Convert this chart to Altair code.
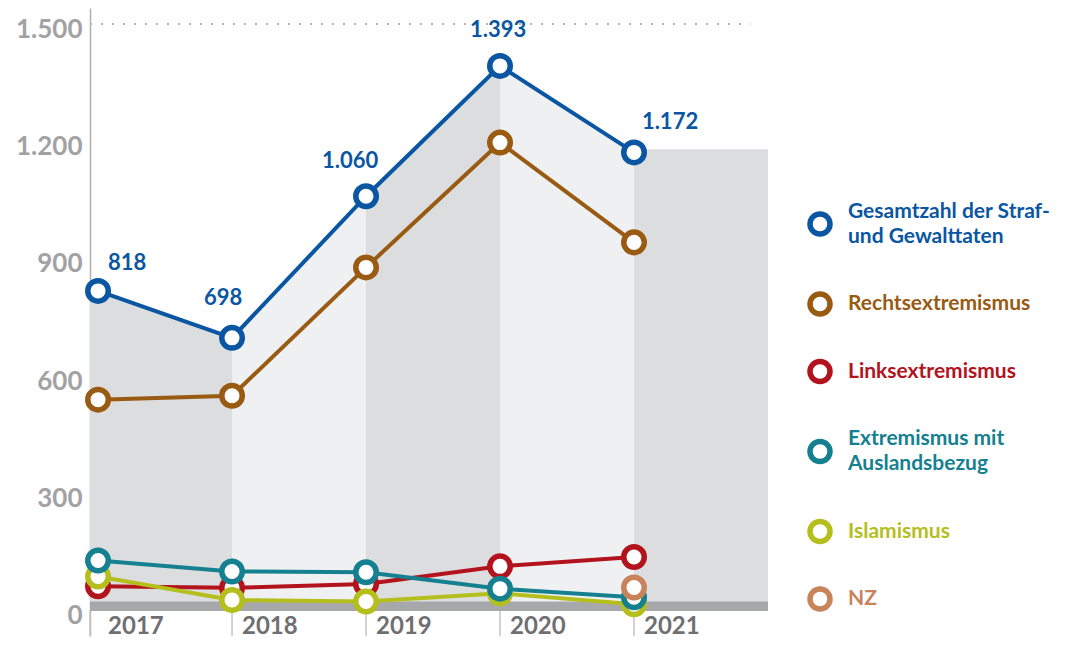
import altair as alt
import pandas as pd

# ---------------- data ----------------
years = [2017, 2018, 2019, 2020, 2021]
series = ["Gesamtzahl der Straf-|und Gewalttaten", "Rechtsextremismus", "Linksextremismus",
          "Extremismus mit|Auslandsbezug", "Islamismus", "NZ"]
gesamt = [818, 698, 1060, 1393, 1172]
rechts = [540, 550, 878, 1197, 942]
links = [63, 59, 69, 114, 138]
ausland = [129, 101, 99, 57, 35]
islam = [88, 28, 24, 45, 17]
nz = [None, None, None, None, 60]
colors = ["#0a56a2", "#995a12", "#b3131c", "#148090", "#b4bf1e", "#c8835b"]
draw_rank = [0, 1, 2, 4, 3, 5]
y_ticks = [0, 300, 600, 900, 1200, 1500]
band_edges = [2016.94, 2018, 2019, 2020, 2021, 2022]
band_shades = ["dark", "light", "dark", "light", "dark"]
tail_level = 1180
floor_level = 24
grid_end = 2021.87
y_domain = [-64, 1541]
legend_lines = [2, 1, 1, 2, 1, 1]
legend_gap = 1.7

# ---------------- tables ----------------
values = [gesamt, rechts, links, ausland, islam, nz]
rows = []
for s, vals, rank in zip(series, values, draw_rank):
    for yr, v in zip(years, vals):
        if v is not None:
            rows.append({"series": s, "year": yr, "value": v, "rank": rank})
df = pd.DataFrame(rows)

area_rows = []
for i in range(4):
    if i == 0:
        area_rows.append({"band": i, "x": band_edges[0], "y": gesamt[0], "shade": band_shades[i]})
    area_rows.append({"band": i, "x": years[i], "y": gesamt[i], "shade": band_shades[i]})
    area_rows.append({"band": i, "x": years[i + 1], "y": gesamt[i + 1], "shade": band_shades[i]})
area_rows.append({"band": 4, "x": years[-1], "y": tail_level, "shade": band_shades[4]})
area_rows.append({"band": 4, "x": band_edges[-1], "y": tail_level, "shade": band_shades[4]})
area_df = pd.DataFrame(area_rows)

floor_df = pd.DataFrame([{"x0": band_edges[0], "x1": band_edges[-1], "y0": 0, "y1": floor_level}])
grid_df = pd.DataFrame([{"x0": band_edges[0], "x1": grid_end, "y": y_ticks[-1]}])
tick_df = pd.DataFrame({"x": band_edges[:-1], "y0": [y_domain[0]] * 5, "y1": [0] * 5})
year_df = pd.DataFrame({"x": years, "y": [y_domain[0]] * 5, "label": [str(y) for y in years]})
total_df = pd.DataFrame({"year": years, "value": gesamt})

leg_pos, leg_text_pos = [], []
cum = 0.0
for n in legend_lines:
    leg_pos.append(cum + n / 2)
    leg_text_pos.append(cum + n / 2 - (n - 1) / 2)
    cum += n + legend_gap
legend_df = pd.DataFrame({"series": series, "pos": leg_pos, "tpos": leg_text_pos})

# ---------------- scales / encodings ----------------
FONT = "Lato"
xscale = alt.Scale(domain=[band_edges[0], band_edges[-1]], nice=False, zero=False)
yscale = alt.Scale(domain=y_domain, nice=False, zero=False)
yaxis = alt.Axis(values=y_ticks, labelExpr="replace(format(datum.value, ','), ',', '.')",
                 domain=True, domainColor="#b0b0b3", domainWidth=1.5, ticks=False, tickSize=0,
                 grid=False, labelFont=FONT, labelFontSize=26, labelFontWeight="bold",
                 labelColor="#a2a2a5", labelPadding=8, labelOffset=5, labelOverlap=False,
                 title=None)
stroke_scale = alt.Scale(domain=series, range=colors)


def X(field):
    return alt.X(field, type="quantitative", scale=xscale, axis=None)


def Y(field):
    return alt.Y(field, type="quantitative", scale=yscale, axis=yaxis)


areas = alt.Chart(area_df).mark_area(interpolate="linear", opacity=1).encode(
    x=X("x"), y=Y("y"), y2=alt.datum(0),
    fill=alt.Fill("shade:N", scale=alt.Scale(domain=["dark", "light"], range=["#dcdddf", "#eff0f2"]),
                  legend=None),
    detail="band:N",
)

floor = alt.Chart(floor_df).mark_rect(color="#a7a8ab").encode(
    x=X("x0"), x2="x1", y=Y("y0"), y2="y1"
)

grid = alt.Chart(grid_df).mark_rule(color="#b4b4b7", strokeWidth=2, strokeDash=[2, 9]).encode(
    x=X("x0"), x2="x1", y=Y("y")
)

ticks = alt.Chart(tick_df).mark_rule(color="#c4c4c6", strokeWidth=1.5).encode(
    x=X("x"), y=Y("y0"), y2="y1"
)

year_text = alt.Chart(year_df).mark_text(
    align="left", baseline="alphabetic", dx=10, dy=-2, font=FONT, fontSize=24, fontWeight="bold",
    color="#6f6f72"
).encode(x=X("x"), y=Y("y"), text="label:N")

lines = alt.Chart(df).mark_line(strokeWidth=4).encode(
    x=X("year"), y=Y("value"),
    color=alt.Color("series:N", scale=stroke_scale, legend=None),
    order=alt.Order("year:Q"),
)

points = alt.Chart(df).mark_point(shape="circle", size=420, strokeWidth=5.5, filled=False,
                                  opacity=1).encode(
    x=X("year"), y=Y("value"),
    stroke=alt.Stroke("series:N", scale=stroke_scale, legend=None),
    fill=alt.value("white"),
    order=alt.Order("rank:Q"),
)

label_offsets = [(29, -28), (-9, -40), (-16, -35), (-2, -36), (36, -30)]
labels = []
for yr, (dx, dy) in zip(years, label_offsets):
    labels.append(
        alt.Chart(total_df).transform_filter(alt.datum.year == yr)
        .transform_calculate(lbl="replace(format(datum.value, ','), ',', '.')")
        .mark_text(align="center", baseline="middle", dx=dx, dy=dy, font=FONT, fontSize=22,
                   fontWeight="bold", color=colors[0])
        .encode(x=X("year"), y=Y("value"), text="lbl:N")
    )

main = alt.layer(areas, floor, grid, ticks, year_text, lines, points, *labels)

# ---------------- legend (drawn as marks) ----------------
leg_scale = alt.Scale(domain=[-7.64, 17.48], reverse=True, nice=False, zero=False)
leg_points = alt.Chart(legend_df).mark_point(shape="circle", size=400, strokeWidth=5.5,
                                             filled=False, opacity=1).encode(
    x=alt.value(730),
    y=alt.Y("pos:Q", scale=leg_scale, axis=None),
    stroke=alt.Stroke("series:N", scale=stroke_scale, legend=None),
    fill=alt.value("white"),
)
leg_text = alt.Chart(legend_df).mark_text(
    align="left", baseline="middle", lineBreak="|", lineHeight=25, font=FONT, fontSize=21,
    fontWeight="bold"
).encode(
    x=alt.value(758),
    y=alt.Y("tpos:Q", scale=leg_scale, axis=None),
    text="series:N",
    color=alt.Color("series:N", scale=stroke_scale, legend=None),
)
legend = alt.layer(leg_points, leg_text)

chart = alt.layer(main, legend).resolve_scale(y="independent").properties(
    width=678, height=628,
    autosize=alt.AutoSizeParams(type="none"),
    padding={"left": 82, "top": 0, "right": 289, "bottom": 2},
).configure_view(strokeWidth=0)

chart.save("out.html", embed_options={"renderer": "svg", "actions": False})
